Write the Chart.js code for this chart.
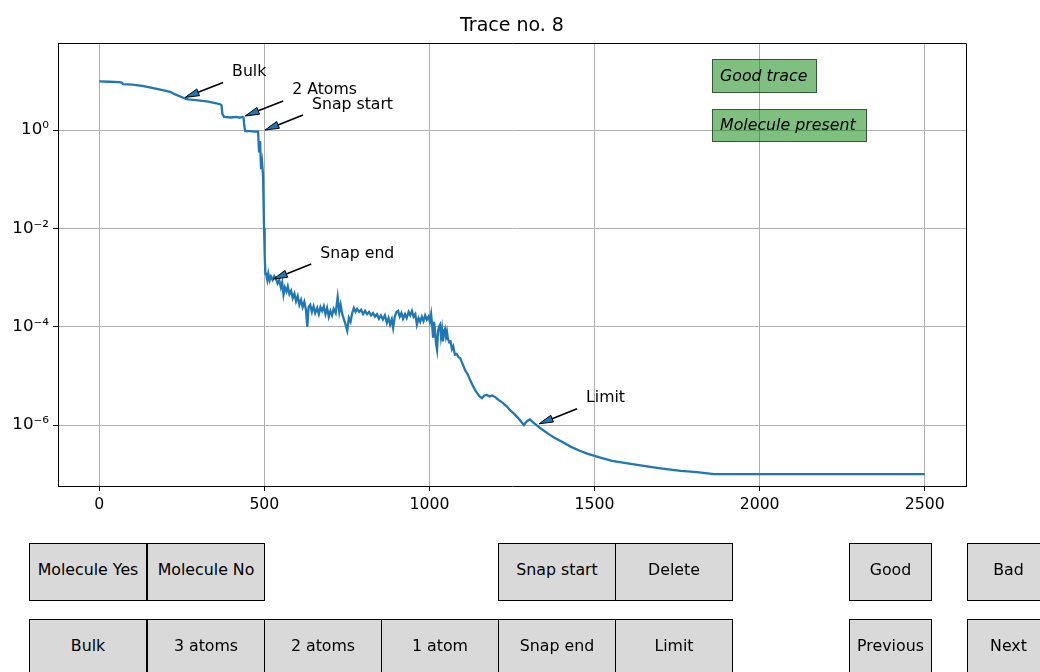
<!DOCTYPE html>
<html><head><meta charset="utf-8">
<script src="https://cdn.jsdelivr.net/npm/chart.js@4.4.1/dist/chart.umd.min.js"></script>
<style>
html,body{margin:0;padding:0;background:#fff;}
#wrap{position:relative;width:1040px;height:672px;overflow:hidden;font-family:"DejaVu Sans",sans-serif;}
canvas{position:absolute;left:0;top:0;}
.title{position:absolute;left:0;width:1024px;top:12px;text-align:center;font-size:19px;line-height:24px;color:#000;}
.tag{position:absolute;background:rgba(0,128,0,0.5);border:1px solid rgba(0,0,0,0.55);box-sizing:border-box;font-style:italic;font-size:15.8px;color:#000;padding-left:7px;padding-bottom:2px;display:flex;align-items:center;white-space:nowrap;}
.btn{position:absolute;background:#d9d9d9;border:1px solid #000;box-sizing:border-box;font-size:15.8px;color:#000;padding-bottom:5px;display:flex;align-items:center;justify-content:center;white-space:nowrap;}
</style></head>
<body>
<div id="wrap">
<canvas id="c" width="1040" height="672"></canvas>
<div class="title">Trace no. 8</div>
</div>
<script>
// ---- data ----
const traceX = [
0,30,60,68,72,100,130,160,185,205,215,230,245,262,270,300,330,355,366,370,373,378,400,415,425,433,437,439,442,457,470,481,484,487,490,493,496,499,501,503,
505,509,512,516,520,525,530,535,540,545,550,554,558,562,567,571,576,581,586,591,596,601,606,611,616,621,626,630,634,639,644,649,654,660,665,670,675,680,685,690,695,700,705,710,716,722,727,731,736,741,746,751,756,761,766,771,776,781,787,793,799,805,811,817,823,829,835,841,847,853,859,865,871,876,881,886,890,895,900,905,910,915,920,926,931,937,942,947,952,957,962,967,972,977,982,987,992,997,1001,1005,1008,1011,1014,1017,1020,1023,1026,1029,1032,1035,1038,1041,1044,1047,1050,1053,1056,1060,1064,1068,1072,1077,1082,1088,1093,1098,1103,1108,1115,1123,1130,1138,1145,1152,1159,1166,1174,1182,1190,1199,1210,1223,1234,1244,1256,1268,1278,1286,1295,1304,1315,1325,1335,1350,1365,1377,1400,1429,1455,1480,1515,1553,1600,1659,1700,1761,1810,1855,1860,2500
];
const traceY = [
9.8,9.6,9.4,9.2,8.6,8.4,7.9,7.2,6.6,6.2,6.0,5.3,4.8,4.3,4.2,4.0,3.8,3.5,3.35,3.2,2.1,1.85,1.8,1.85,1.78,1.85,1.8,1.25,0.95,0.95,0.93,0.93,0.35,0.6,0.16,0.22,0.12,0.01,0.003,0.0012,
1.2e-3,8.9e-4,1.2e-3,8.7e-4,1.05e-3,8.9e-4,1.07e-3,9.5e-4,7.6e-4,8.9e-4,6.3e-4,7.9e-4,4.5e-4,6.3e-4,5.2e-4,6.6e-4,4.6e-4,5.4e-4,3.8e-4,4.7e-4,3.3e-4,4.2e-4,2.8e-4,3.5e-4,2.5e-4,3.2e-4,2.2e-4,1.0e-4,2.5e-4,2.8e-4,2.0e-4,2.6e-4,1.9e-4,2.4e-4,1.8e-4,2.5e-4,2.1e-4,2.6e-4,1.8e-4,2.4e-4,1.6e-4,2.1e-4,1.7e-4,2.3e-4,1.9e-4,4.0e-4,2.0e-4,2.8e-4,1.8e-4,1.4e-4,1.1e-4,8.3e-5,1.5e-4,1.26e-4,1.9e-4,2.4e-4,2.0e-4,2.3e-4,2.0e-4,2.2e-4,1.8e-4,2.1e-4,1.8e-4,2.0e-4,1.7e-4,1.9e-4,1.6e-4,1.8e-4,1.45e-4,1.7e-4,1.4e-4,1.7e-4,1.2e-4,1.5e-4,1.1e-4,1.4e-4,9.5e-5,1.6e-4,2.0e-4,2.1e-4,1.6e-4,1.9e-4,1.45e-4,1.8e-4,1.5e-4,2.0e-4,1.7e-4,2.1e-4,1.6e-4,1.8e-4,1.1e-4,1.5e-4,1.26e-4,1.6e-4,1.3e-4,1.7e-4,1.4e-4,1.6e-4,1.26e-4,1.8e-4,1.1e-4,6.0e-5,1.26e-4,7.9e-5,4.5e-5,3.4e-5,7.9e-5,1.0e-4,1.1e-4,6.3e-5,8.9e-5,5.0e-5,7.6e-5,8.9e-5,6.3e-5,7.9e-5,5.6e-5,4.8e-5,5.0e-5,3.5e-5,4.0e-5,2.7e-5,2.8e-5,2.4e-5,2.3e-5,1.9e-5,1.6e-5,1.3e-5,1.1e-5,8.3e-6,6.6e-6,5.2e-6,4.4e-6,3.8e-6,3.5e-6,4.0e-6,4.1e-6,3.8e-6,4.0e-6,3.7e-6,3.2e-6,2.8e-6,2.4e-6,2.0e-6,1.7e-6,1.4e-6,1.17e-6,1.0e-6,1.2e-6,1.3e-6,1.12e-6,9.8e-7,8.7e-7,7.4e-7,6.3e-7,5.6e-7,4.6e-7,3.6e-7,3.0e-7,2.6e-7,2.2e-7,1.86e-7,1.66e-7,1.45e-7,1.32e-7,1.17e-7,1.1e-7,1.02e-7,1.0e-7,1.0e-7
];
const xTickValues = [0, 500, 1000, 1500, 2000, 2500];
const xTickLabels = ['0', '500', '1000', '1500', '2000', '2500'];
const yTickValues = [1e-6, 1e-4, 1e-2, 1];
const yTickLabels = ['10\u207B\u2076', '10\u207B\u2074', '10\u207B\u00B2', '10\u2070'];
const annoLabels = ['Bulk', '2 Atoms', 'Snap start', 'Snap end', 'Limit'];
const annoX = [260, 442, 502, 527, 1332];
const annoY = [4.6, 1.93, 1.0, 9.3e-4, 1.06e-6];
const statusLabels = ['Good trace', 'Molecule present'];
const buttonLabelsRow1 = ['Molecule Yes', 'Molecule No', 'Snap start', 'Delete', 'Good', 'Bad'];
const buttonLabelsRow2 = ['Bulk', '3 atoms', '2 atoms', '1 atom', 'Snap end', 'Limit', 'Previous', 'Next'];

// ---- layout (HTML widgets) ----
const wrap = document.getElementById('wrap');
const tagBoxes = [[712, 59, 105, 34], [712, 109, 155, 33]];
statusLabels.forEach((t, i) => {
  const d = document.createElement('div'); d.className = 'tag'; d.textContent = t;
  const b = tagBoxes[i];
  Object.assign(d.style, {left: b[0] + 'px', top: b[1] + 'px', width: b[2] + 'px', height: b[3] + 'px'});
  wrap.appendChild(d);
});
const row1Boxes = [[29, 118], [147, 118], [498, 118], [615, 118], [849, 83], [967, 83]];
const row2Boxes = [[29, 118], [147, 118], [264, 118], [381, 118], [498, 118], [615, 118], [849, 83], [967, 83]];
function addButtons(labels, boxes, top, h) {
  labels.forEach((t, i) => {
    const d = document.createElement('div'); d.className = 'btn'; d.textContent = t;
    Object.assign(d.style, {left: boxes[i][0] + 'px', top: top + 'px', width: boxes[i][1] + 'px', height: h + 'px'});
    wrap.appendChild(d);
  });
}
addButtons(buttonLabelsRow1, row1Boxes, 543, 58);
addButtons(buttonLabelsRow2, row2Boxes, 619, 58);

// ---- chart ----
const FONT = "'DejaVu Sans', sans-serif";
const FS = 15.7;
const points = traceX.map((x, i) => ({x: x, y: traceY[i]}));

const annoPlugin = {
  id: 'anno',
  afterDatasetsDraw(chart) {
    const ctx = chart.ctx, xs = chart.scales.x, ys = chart.scales.y;
    ctx.save();
    annoLabels.forEach((lab, i) => {
      const px = xs.getPixelForValue(annoX[i]);
      const py = ys.getPixelForValue(annoY[i]);
      const sx = px + 38, sy = py - 15;
      const dx = px - sx, dy = py - sy, L = Math.hypot(dx, dy);
      const ux = dx / L, uy = dy / L, nx = -uy, ny = ux;
      const hl = 14, hw = 3.6;
      const bx = px - ux * hl, by = py - uy * hl;
      ctx.strokeStyle = '#000'; ctx.lineWidth = 1.6;
      ctx.beginPath(); ctx.moveTo(sx, sy); ctx.lineTo(bx, by); ctx.stroke();
      ctx.beginPath();
      ctx.moveTo(px, py);
      ctx.lineTo(bx + nx * hw, by + ny * hw);
      ctx.lineTo(bx - nx * hw, by - ny * hw);
      ctx.closePath();
      ctx.fillStyle = '#1f77b4'; ctx.fill();
      ctx.lineWidth = 1; ctx.stroke();
      ctx.fillStyle = '#000';
      ctx.font = FS + 'px ' + FONT;
      ctx.textAlign = 'left'; ctx.textBaseline = 'alphabetic';
      ctx.fillText(lab, px + 47, py - 21.5);
    });
    ctx.restore();
  },
  afterDraw(chart) {
    const a = chart.chartArea, ctx = chart.ctx;
    ctx.save();
    ctx.strokeStyle = '#000'; ctx.lineWidth = 1;
    ctx.beginPath();
    ctx.moveTo(Math.round(a.left), Math.round(a.top) + 0.5);
    ctx.lineTo(Math.round(a.right) + 0.5, Math.round(a.top) + 0.5);
    ctx.lineTo(Math.round(a.right) + 0.5, Math.round(a.bottom) + 0.5);
    ctx.stroke();
    ctx.restore();
  }
};

new Chart(document.getElementById('c'), {
  type: 'line',
  data: {datasets: [{
    data: points,
    borderColor: '#1f77b4',
    borderWidth: 2.3,
    pointRadius: 0,
    tension: 0,
    fill: false
  }]},
  options: {
    responsive: false,
    animation: false,
    devicePixelRatio: 1,
    layout: {padding: {left: 0, top: 43, right: 74, bottom: 156}},
    plugins: {legend: {display: false}, tooltip: {enabled: false}, title: {display: false}},
    scales: {
      x: {
        type: 'linear', min: -125, max: 2625,
        afterBuildTicks: s => { s.ticks = xTickValues.map(v => ({value: v})); },
        afterFit: s => { s.height = 30; },
        grid: {color: '#b0b0b0', lineWidth: 1, tickColor: '#000', tickLength: 5},
        border: {display: true, color: '#000', width: 1},
        ticks: {autoSkip: false, maxRotation: 0, padding: 5, color: '#000',
          font: {family: FONT, size: FS},
          callback: v => { const i = xTickValues.indexOf(v); return i >= 0 ? xTickLabels[i] : ''; }}
      },
      y: {
        type: 'logarithmic', min: Math.pow(10, -7.24), max: Math.pow(10, 1.77),
        afterBuildTicks: s => { s.ticks = yTickValues.map(v => ({value: v})); },
        afterFit: s => { s.width = 58; },
        grid: {color: '#b0b0b0', lineWidth: 1, tickColor: '#000', tickLength: 5},
        border: {display: true, color: '#000', width: 1},
        ticks: {autoSkip: false, padding: 4, color: '#000',
          font: {family: FONT, size: FS + 1},
          callback: v => { const i = yTickValues.findIndex(t => Math.abs(Math.log10(t) - Math.log10(v)) < 1e-6); return i >= 0 ? yTickLabels[i] : ''; }}
      }
    }
  },
  plugins: [annoPlugin]
});
</script>
</body></html>
